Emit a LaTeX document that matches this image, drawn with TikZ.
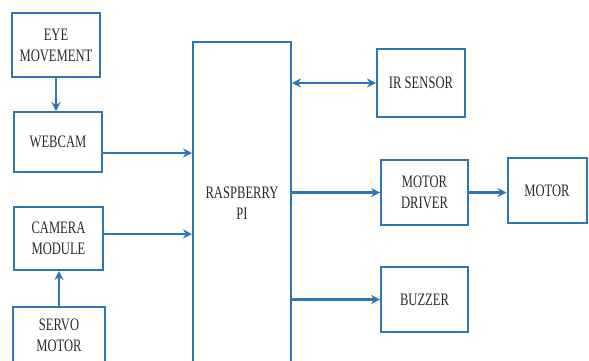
\documentclass[tikz,border=0pt]{standalone}
\usepackage{fontspec}
\setmainfont{Liberation Serif}[FakeStretch=0.72]
\usetikzlibrary{arrows.meta}
\definecolor{lineblue}{HTML}{2E75B6}
\definecolor{txtgray}{HTML}{2B2B2B}
\tikzset{
  blk/.style={draw=lineblue,line width=2pt,fill=white,align=center,
    text=txtgray,font=\fontsize{17.5}{21}\selectfont,inner sep=0pt},
  link/.style={draw=lineblue,line width=2.4pt,-{Stealth[length=9pt,width=9pt]}},
  dlink/.style={link,{Stealth[length=9pt,width=9pt]}-{Stealth[length=9pt,width=9pt]}},
}
\begin{document}
\begin{tikzpicture}[x=1pt,y=-1pt]
  % 画布
  \useasboundingbox (0,0) rectangle (589,360);
  \clip (0,0) rectangle (589,360);
  \fill[white] (0,0) rectangle (589,360);
  % 左侧输入
  \node[blk,minimum width=88pt,minimum height=64pt] (eye) at (56,45) {EYE\\MOVEMENT};
  \node[blk,minimum width=88pt,minimum height=60pt] (webcam) at (58,142) {WEBCAM};
  \node[blk,minimum width=89pt,minimum height=63pt] (camera) at (58.5,238.5) {CAMERA\\MODULE};
  \node[blk,minimum width=92pt,minimum height=56pt] (servo) at (59,335) {SERVO\\MOTOR};
  % 主控
  \node[blk,minimum width=98pt,minimum height=322pt] (rpi) at (242,203) {RASPBERRY\\PI};
  % 右侧输出
  \node[blk,minimum width=88pt,minimum height=68pt] (ir) at (421,83) {IR SENSOR};
  \node[blk,minimum width=87pt,minimum height=65pt] (driver) at (424.5,192.5) {MOTOR\\DRIVER};
  \node[blk,minimum width=79pt,minimum height=65pt] (motor) at (547,190.5) {MOTOR};
  \node[blk,minimum width=87pt,minimum height=65pt] (buzzer) at (424.5,299.5) {BUZZER};
  % 连线
  \draw[link] (eye.south) -- (eye.south |- webcam.north);
  \draw[link] (servo.north) -- (servo.north |- camera.south);
  \draw[link] (webcam.east |- 0,153) -- (rpi.west |- 0,153);
  \draw[link] (camera.east |- 0,234) -- (rpi.west |- 0,234);
  \draw[dlink] (rpi.east |- ir.west) -- (ir.west);
  \draw[link] (rpi.east |- driver.west) -- (driver.west);
  \draw[link] (driver.east) -- (motor.west |- driver.east);
  \draw[link] (rpi.east |- buzzer.west) -- (buzzer.west);
\end{tikzpicture}
\end{document}
